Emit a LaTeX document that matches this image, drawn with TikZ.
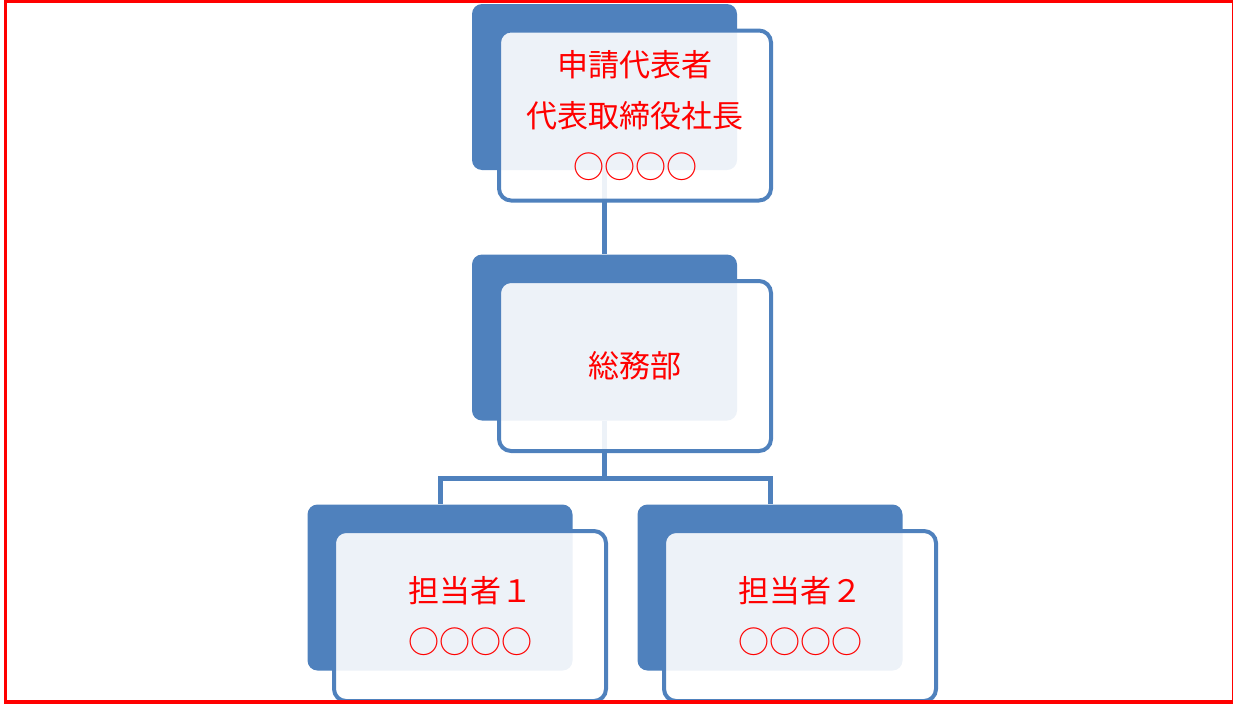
\documentclass[tikz,border=0pt]{standalone}
\usepackage{fontspec}
\setmainfont{Noto Sans CJK JP}
\definecolor{chartblue}{RGB}{79,129,189}
\begin{document}
\begin{tikzpicture}[x=1pt,y=-1pt,
    backbox/.style={rectangle,rounded corners=10pt,fill=chartblue,minimum width=265pt,minimum height=166pt,inner sep=0pt},
    frontbox/.style={rectangle,rounded corners=12pt,draw=chartblue,line width=4pt,fill=white,fill opacity=0.9,text opacity=1,
        minimum width=272pt,minimum height=170pt,inner sep=0pt,align=center,text=red,font=\fontsize{31}{51}\selectfont},
    link/.style={draw=chartblue,line width=5pt}]
                \useasboundingbox (0,0) rectangle (1233,704);
                \node [backbox] (topback) at (604.5,87) {};
                \node [backbox] (midback) at (604.5,337.5) {};
                \node [backbox] (leftback) at (440,587.5) {};
                \node [backbox] (rightback) at (770,587.5) {};
                \coordinate (fork) at (604.5,478);
                \draw [link] (topback.south) -- (midback.north);
                \draw [link] (midback.south) -- (fork);
                \draw [link] (fork) -| (leftback.north);
                \draw [link] (fork) -| (rightback.north);
                \node [frontbox] (topfront) at (635,115.5) {申請代表者\\代表取締役社長\\○○○○};
                \node [frontbox] (midfront) at (635,366) {総務部};
                \node [frontbox] (leftfront) at (470,616) {担当者１\\○○○○};
                \node [frontbox] (rightfront) at (800,616) {担当者２\\○○○○};
                \draw [red,line width=3.5pt] (5.5,1.5) rectangle (1234,702);
            \end{tikzpicture}
\end{document}
